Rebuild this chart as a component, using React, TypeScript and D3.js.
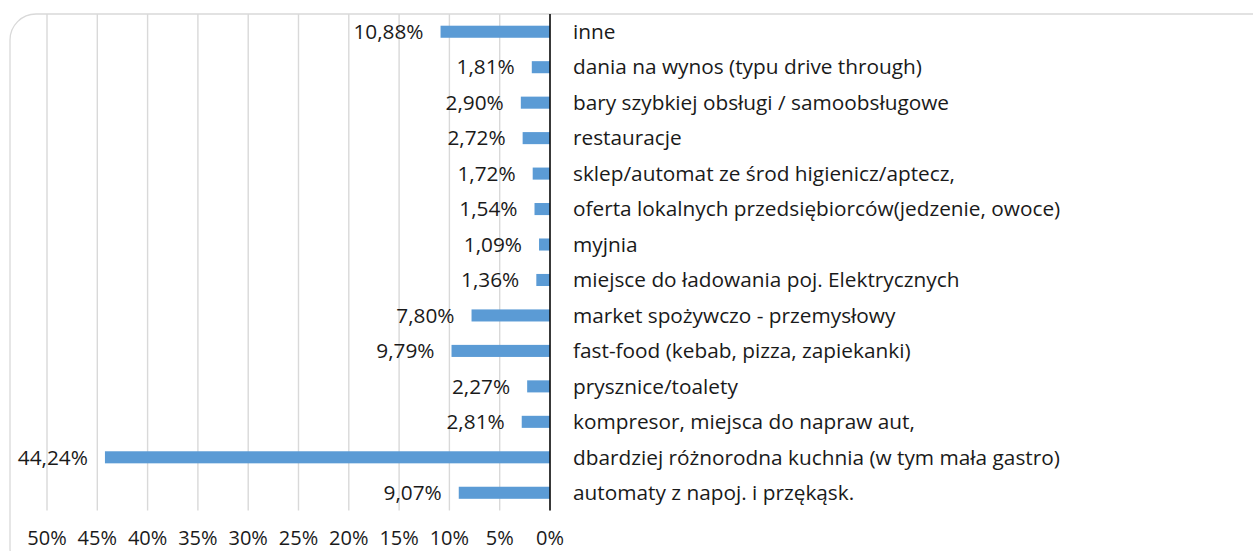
import React from "react";
import * as d3 from "d3";

const categories = [
  "inne",
  "dania na wynos (typu drive through)",
  "bary szybkiej obsługi / samoobsługowe",
  "restauracje",
  "sklep/automat ze środ higienicz/aptecz,",
  "oferta lokalnych przedsiębiorców(jedzenie, owoce)",
  "myjnia",
  "miejsce do ładowania poj. Elektrycznych",
  "market spożywczo - przemysłowy",
  "fast-food (kebab, pizza, zapiekanki)",
  "prysznice/toalety",
  "kompresor, miejsca do napraw aut,",
  "dbardziej różnorodna kuchnia (w tym mała gastro)",
  "automaty z napoj. i przękąsk.",
];
const values = [10.88, 1.81, 2.9, 2.72, 1.72, 1.54, 1.09, 1.36, 7.8, 9.79, 2.27, 2.81, 44.24, 9.07];
const ticks = [0, 5, 10, 15, 20, 25, 30, 35, 40, 45, 50];

const W = 1253;
const H = 551;
const font = "'Open Sans', sans-serif";
const fs = 20.8;

const App = () => {
  const x = d3.scaleLinear().domain([0, 50]).range([550, 47]);
  const y = d3.scaleBand().domain(categories).range([14, 510.5]).paddingInner(0.66).paddingOuter(0.33);
  const fmt = (v: number) => v.toFixed(2).replace(".", ",") + "%";

  return (
    <svg width={W} height={H} style={{ position: "absolute", left: 0, top: 0 }}>
      <rect x={0} y={0} width={W} height={H} fill="#fff" />
      <rect x={10} y={14} width={1270} height={560} rx={26} fill="#fff" stroke="#d9d9d9" strokeWidth={1.3} />
      {ticks.map((t) => (
        <line key={t} x1={x(t)} x2={x(t)} y1={14} y2={510.5} stroke="#d9d9d9" strokeWidth={1.4} />
      ))}
      {categories.map((c, i) => (
        <rect
          key={c}
          x={x(values[i])}
          y={y(c)!}
          width={x(0) - x(values[i])}
          height={y.bandwidth()}
          fill="#5b9bd5"
        />
      ))}
      <line x1={x(0)} x2={x(0)} y1={14} y2={510.5} stroke="#000" strokeWidth={1.5} />
      {categories.map((c, i) => (
        <text
          key={c}
          x={x(values[i]) - 17}
          y={y(c)! + y.bandwidth() / 2}
          dy="0.35em"
          textAnchor="end"
          fontFamily={font}
          fontSize={fs}
          fill="#1a1a1a"
        >
          {fmt(values[i])}
        </text>
      ))}
      {categories.map((c) => (
        <text
          key={c}
          x={573}
          y={y(c)! + y.bandwidth() / 2}
          dy="0.35em"
          fontFamily={font}
          fontSize={fs}
          fill="#1a1a1a"
        >
          {c}
        </text>
      ))}
      {ticks.map((t) => (
        <text
          key={t}
          x={x(t)}
          y={538}
          dy="0.35em"
          textAnchor="middle"
          fontFamily={font}
          fontSize={20}
          fill="#1a1a1a"
        >
          {t}%
        </text>
      ))}
    </svg>
  );
};

export default App;
